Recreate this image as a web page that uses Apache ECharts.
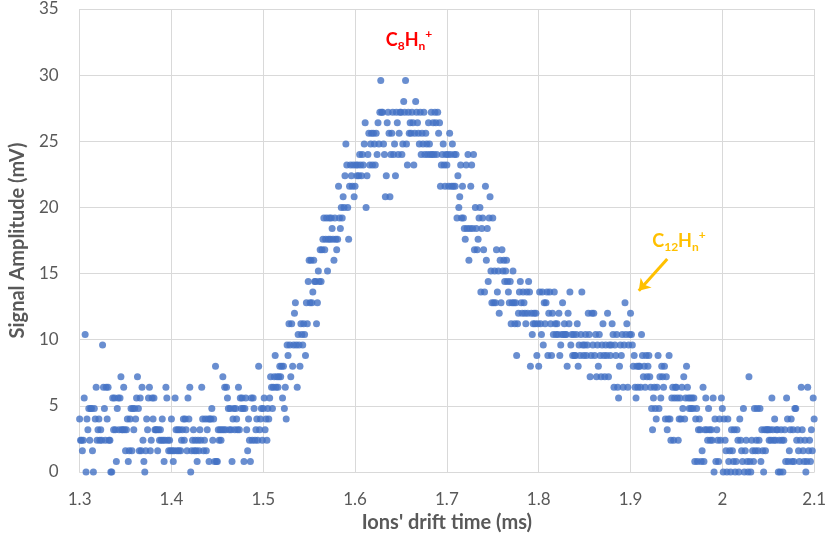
<!DOCTYPE html>
<html>
<head>
<meta charset="utf-8">
<title>Ions' drift time</title>
<script src="https://cdn.jsdelivr.net/npm/echarts@6/dist/echarts.min.js"></script>
<style>
  html, body { margin: 0; padding: 0; background: #fff; }
  #chart { width: 829px; height: 538px; }
</style>
</head>
<body>
<div id="chart"></div>
<script>
// trace sampling: one sample every 0.001 ms starting at 1.3 ms
const t0 = 1.3;
const dt = 0.001;

// signal amplitude (mV), 100 samples per 0.1 ms block
const amp130 = [
  4.0, 2.4, 2.4, 1.6, 2.4, 5.6, 10.4, 0, 4.0, 3.2,
  4.8, 2.4, 4.8, 4.8, 1.6, 0, 4.8, 4.0, 6.4, 2.4,
  3.2, 4.0, 2.4, 3.2, 2.4, 9.6, 6.4, 4.8, 2.4, 6.4,
  4.0, 6.4, 2.4, 2.4, 0, 0, 5.6, 3.2, 5.6, 3.2,
  0.8, 4.8, 5.6, 3.2, 5.6, 7.2, 3.2, 3.2, 6.4, 3.2,
  1.6, 3.2, 4.0, 0.8, 1.6, 4.0, 4.8, 1.6, 4.8, 3.2,
  4.8, 4.0, 5.6, 7.2, 4.8, 1.6, 5.6, 1.6, 6.4, 2.4,
  0.8, 0, 1.6, 4.0, 3.2, 5.6, 6.4, 1.6, 2.4, 5.6,
  4.0, 5.6, 3.2, 3.2, 3.2, 1.6, 3.2, 2.4, 3.2, 2.4,
  4.0, 2.4, 0.8, 2.4, 6.4, 5.6, 2.4, 1.6, 2.4, 1.6
];
const amp140 = [
  4.0, 1.6, 0.8, 1.6, 5.6, 3.2, 1.6, 3.2, 1.6, 3.2,
  1.6, 2.4, 3.2, 4.0, 2.4, 4.0, 3.2, 1.6, 5.6, 4.0,
  6.4, 0, 1.6, 2.4, 3.2, 1.6, 2.4, 1.6, 0.8, 2.4,
  1.6, 3.2, 2.4, 6.4, 4.0, 1.6, 2.4, 4.0, 1.6, 3.2,
  4.0, 0.8, 4.0, 4.0, 4.8, 2.4, 4.0, 0.8, 8.0, 0.8,
  0.8, 3.2, 2.4, 3.2, 2.4, 3.2, 7.2, 3.2, 6.4, 3.2,
  6.4, 5.6, 4.8, 3.2, 4.8, 3.2, 0.8, 4.0, 4.8, 3.2,
  4.8, 4.0, 3.2, 6.4, 3.2, 5.6, 4.8, 5.6, 4.8, 0.8,
  4.8, 5.6, 3.2, 1.6, 4.0, 2.4, 0.8, 5.6, 2.4, 5.6,
  4.8, 2.4, 3.2, 4.0, 2.4, 8.0, 3.2, 4.0, 4.8, 2.4
];
const amp150 = [
  4.8, 5.6, 3.2, 4.0, 2.4, 4.8, 4.0, 5.6, 7.2, 6.4,
  4.8, 6.4, 7.2, 8.8, 6.4, 7.2, 6.4, 7.2, 8.0, 7.2,
  8.0, 5.6, 8.0, 4.8, 6.4, 4.0, 9.6, 8.8, 11.2, 9.6,
  7.2, 11.2, 8.0, 9.6, 12.0, 12.8, 9.6, 6.4, 10.4, 9.6,
  8.0, 11.2, 10.4, 9.6, 11.2, 10.4, 8.8, 12.8, 11.2, 14.4,
  16.0, 12.8, 16.0, 12.8, 13.6, 16.0, 14.4, 14.4, 11.2, 12.8,
  15.2, 14.4, 16.8, 14.4, 16.8, 17.6, 19.2, 16.8, 17.6, 19.2,
  15.2, 17.6, 19.2, 17.6, 19.2, 18.4, 17.6, 16.0, 19.2, 17.6,
  16.8, 17.6, 21.6, 19.2, 18.4, 20.0, 19.2, 20.8, 20.0, 22.4,
  24.8, 23.2, 20.0, 17.6, 21.6, 23.2, 22.4, 21.6, 23.2, 20.8
];
const amp160 = [
  21.6, 23.2, 22.4, 23.2, 22.4, 24.0, 23.2, 22.4, 24.0, 23.2,
  24.8, 26.4, 20.0, 22.4, 24.0, 25.6, 23.2, 24.8, 25.6, 23.2,
  25.6, 24.8, 23.2, 25.6, 24.0, 26.4, 24.8, 27.2, 29.6, 27.2,
  27.2, 24.8, 24.0, 20.8, 22.4, 26.4, 27.2, 25.6, 20.8, 24.0,
  25.6, 27.2, 24.0, 24.8, 22.4, 27.2, 26.4, 24.0, 25.6, 27.2,
  27.2, 24.0, 24.8, 28.0, 27.2, 29.6, 24.8, 23.2, 27.2, 25.6,
  26.4, 25.6, 27.2, 26.4, 23.2, 25.6, 28.0, 27.2, 26.4, 25.6,
  24.8, 27.2, 24.0, 25.6, 24.8, 27.2, 24.0, 25.6, 24.8, 24.0,
  26.4, 24.8, 24.0, 27.2, 24.0, 26.4, 24.0, 27.2, 26.4, 24.0,
  27.2, 25.6, 26.4, 21.6, 23.2, 24.0, 24.8, 23.2, 21.6, 24.0
];
const amp170 = [
  23.2, 24.0, 21.6, 25.6, 24.0, 21.6, 24.8, 21.6, 24.0, 21.6,
  24.0, 19.2, 22.4, 20.0, 20.8, 23.2, 19.2, 21.6, 19.2, 18.4,
  17.6, 23.2, 18.4, 24.0, 16.0, 18.4, 21.6, 23.2, 18.4, 24.0,
  16.8, 20.0, 18.4, 16.8, 17.6, 19.2, 20.0, 13.6, 18.4, 19.2,
  16.8, 13.6, 21.6, 16.0, 18.4, 14.4, 19.2, 20.8, 15.2, 12.8,
  19.2, 12.8, 15.2, 12.8, 16.8, 13.6, 15.2, 12.0, 16.0, 12.8,
  16.8, 15.2, 16.0, 14.4, 15.2, 16.0, 14.4, 13.6, 12.8, 14.4,
  11.2, 12.8, 15.2, 12.8, 11.2, 12.8, 8.8, 11.2, 12.0, 13.6,
  14.4, 12.8, 12.0, 13.6, 12.8, 12.0, 11.2, 13.6, 12.0, 14.4,
  13.6, 8.0, 12.0, 10.4, 11.2, 12.0, 11.2, 12.0, 8.8, 11.2
];
const amp180 = [
  8.0, 13.6, 11.2, 10.4, 13.6, 9.6, 12.8, 11.2, 12.8, 13.6,
  8.8, 12.0, 13.6, 11.2, 8.8, 12.0, 10.4, 13.6, 11.2, 10.4,
  11.2, 10.4, 12.0, 8.8, 9.6, 10.4, 12.8, 10.4, 11.2, 10.4,
  10.4, 8.0, 12.0, 11.2, 13.6, 9.6, 10.4, 8.8, 10.4, 8.8,
  8.8, 10.4, 11.2, 8.0, 9.6, 8.8, 10.4, 13.6, 9.6, 8.8,
  9.6, 10.4, 8.8, 9.6, 12.0, 10.4, 7.2, 8.8, 12.0, 9.6,
  12.0, 8.8, 10.4, 7.2, 9.6, 8.0, 10.4, 8.8, 7.2, 9.6,
  11.2, 8.8, 7.2, 9.6, 8.8, 12.0, 7.2, 9.6, 8.8, 9.6,
  11.2, 10.4, 6.4, 9.6, 8.8, 10.4, 6.4, 5.6, 8.0, 9.6,
  8.8, 10.4, 6.4, 9.6, 12.8, 10.4, 11.2, 6.4, 9.6, 10.4
];
const amp190 = [
  12.0, 10.4, 9.6, 8.0, 8.8, 6.4, 5.6, 8.0, 6.4, 8.0,
  8.0, 6.4, 10.4, 8.8, 7.2, 8.0, 6.4, 8.8, 7.2, 8.0,
  8.8, 7.2, 6.4, 4.8, 3.2, 5.6, 6.4, 4.8, 4.0, 6.4,
  8.8, 4.8, 7.2, 5.6, 8.0, 7.2, 6.4, 8.0, 4.0, 7.2,
  3.2, 4.0, 8.8, 4.0, 2.4, 5.6, 6.4, 2.4, 5.6, 6.4,
  6.4, 5.6, 2.4, 4.0, 5.6, 4.0, 6.4, 4.8, 7.2, 4.0,
  5.6, 8.0, 6.4, 5.6, 4.8, 5.6, 4.8, 5.6, 4.8, 5.6,
  0.8, 4.0, 4.8, 0.8, 3.2, 4.0, 3.2, 0.8, 1.6, 6.4,
  0.8, 3.2, 5.6, 3.2, 2.4, 4.8, 3.2, 2.4, 3.2, 2.4,
  5.6, 0, 4.0, 0.8, 3.2, 2.4, 0.8, 4.0, 2.4, 5.6
];
const amp200 = [
  4.8, 0, 4.0, 2.4, 1.6, 0, 4.0, 0.8, 1.6, 0,
  3.2, 1.6, 0.8, 3.2, 0, 0.8, 3.2, 2.4, 0, 4.0,
  2.4, 1.6, 0.8, 4.8, 0, 1.6, 2.4, 0.8, 0, 7.2,
  0.8, 0, 2.4, 1.6, 0.8, 4.8, 1.6, 2.4, 4.8, 1.6,
  2.4, 4.8, 0.8, 3.2, 1.6, 0, 3.2, 1.6, 3.2, 3.2,
  3.2, 2.4, 3.2, 2.4, 5.6, 3.2, 2.4, 4.0, 2.4, 3.2,
  3.2, 0, 2.4, 0, 3.2, 2.4, 0, 2.4, 3.2, 0.8,
  5.6, 4.0, 0.8, 1.6, 3.2, 4.0, 0.8, 3.2, 0.8, 4.8,
  4.8, 2.4, 3.2, 1.6, 0.8, 2.4, 6.4, 3.2, 1.6, 0.8,
  2.4, 0, 0.8, 6.4, 1.6, 2.4, 0.8, 3.2, 1.6, 5.6,
  4.0
];

// axis ranges
const xRange = [1.3, 2.1];
const xStep = 0.1;
const yRange = [0, 35];
const yStep = 5;

// arrow pointing at the C12Hn+ shoulder: [time, amplitude]
const arrowFrom = [1.940, 16.1];
const arrowTo = [1.909, 13.7];

const amplitude = [].concat(amp130, amp140, amp150, amp160, amp170, amp180, amp190, amp200);
const points = amplitude.map((v, i) => [+(t0 + i * dt).toFixed(3), v]);

const FONT = 'Lato, "Open Sans", sans-serif';
const GREY = '#595959';

function formula(color, n) {
  // C{n}Hn+ with sub/superscripts
  const base = { fontSize: 18, fontWeight: 'bold', fill: color, fontFamily: FONT, lineHeight: 24, verticalAlign: 'middle' };
  const small = { fontSize: 12, fontWeight: 'bold', fill: color, fontFamily: FONT, lineHeight: 12 };
  return {
    text: '{b|C}{s|' + n + '}{b|H}{s|n}{p|+}',
    align: 'center',
    verticalAlign: 'middle',
    rich: {
      b: base,
      s: Object.assign({}, small, { verticalAlign: 'bottom' }),
      p: Object.assign({}, small, { verticalAlign: 'top' })
    }
  };
}

const chart = echarts.init(document.getElementById('chart'));
chart.setOption({
  animation: false,
  backgroundColor: '#fff',
  grid: { left: 74, right: 14, top: 9, bottom: 65 },
  xAxis: {
    type: 'value',
    min: xRange[0], max: xRange[1], interval: xStep,
    name: "Ions' drift time (ms)",
    nameLocation: 'middle',
    nameGap: 41,
    nameTextStyle: { color: GREY, fontSize: 20, fontWeight: 'bold', fontFamily: FONT },
    axisLine: { show: true, lineStyle: { color: '#d9d9d9' } },
    axisTick: { show: false },
    axisLabel: {
      color: GREY, fontSize: 17, fontFamily: FONT, margin: 19,
      formatter: v => String(+v.toFixed(1))
    },
    splitLine: { show: true, lineStyle: { color: '#d9d9d9' } }
  },
  yAxis: {
    type: 'value',
    min: yRange[0], max: yRange[1], interval: yStep,
    name: 'Signal Amplitude (mV)',
    nameLocation: 'middle',
    nameGap: 43,
    nameTextStyle: { color: GREY, fontSize: 20, fontWeight: 'bold', fontFamily: FONT },
    axisLine: { show: false },
    axisTick: { show: false },
    axisLabel: { color: GREY, fontSize: 17, fontFamily: FONT, margin: 21 },
    splitLine: { show: true, lineStyle: { color: '#d9d9d9' } }
  },
  series: [{
    type: 'scatter',
    data: points,
    symbol: 'circle',
    symbolSize: 7,
    clip: false,
    itemStyle: { color: '#4472C4' },
    markLine: {
      silent: true,
      symbol: ['none', 'arrow'],
      symbolSize: 11,
      label: { show: false },
      lineStyle: { color: '#FFC000', width: 3, type: 'solid' },
      data: [[{ coord: arrowFrom }, { coord: arrowTo }]]
    }
  }],
  graphic: [
    { type: 'text', x: 409, y: 40, style: formula('#FF0000', '8') },
    { type: 'text', x: 679, y: 241, style: formula('#FFC000', '12') }
  ]
});
</script>
</body>
</html>
